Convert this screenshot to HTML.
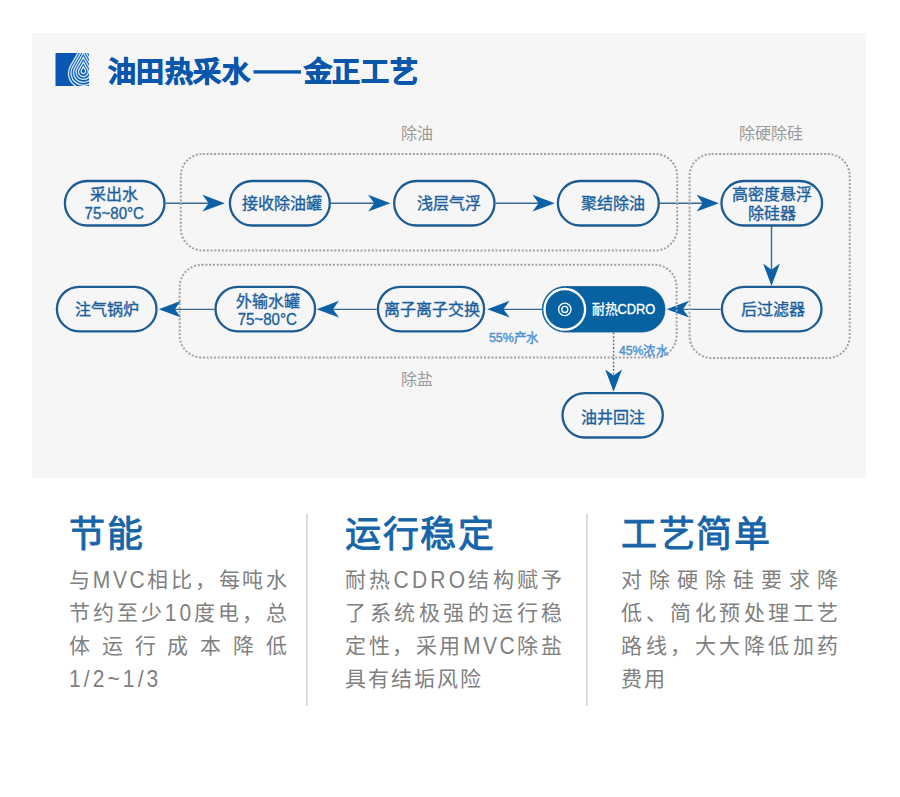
<!DOCTYPE html>
<html lang="zh-CN">
<head>
<meta charset="utf-8">
<style>
html,body{margin:0;padding:0;background:#fff;}
body{width:900px;height:797px;position:relative;overflow:hidden;font-family:"Liberation Sans",sans-serif;}
#panel{position:absolute;left:32px;top:33px;width:834px;height:445px;background:#f6f6f6;}
svg{position:absolute;left:0;top:0;}
.nt{font-family:"Liberation Sans",sans-serif;font-size:16px;font-weight:normal;fill:#1b5f9e;stroke:#1b5f9e;stroke-width:0.35px;}
.lb{font-family:"Liberation Sans",sans-serif;font-size:16px;fill:#9a9a9a;}
.pc{font-family:"Liberation Sans",sans-serif;font-size:13px;fill:#4a8fcf;stroke:#4a8fcf;stroke-width:0.4px;}
.col{position:absolute;top:0;}
.ttl{position:absolute;font-size:36px;font-weight:400;color:#1764a9;white-space:nowrap;letter-spacing:1.5px;-webkit-text-stroke:0.9px #1764a9;}
.ln{position:absolute;height:24px;line-height:24px;font-size:21px;color:#808080;display:flex;justify-content:space-between;align-items:baseline;white-space:nowrap;}
.ln span{display:block;}
.ln .l{transform:translateY(0.8px) scaleY(1.12);transform-origin:50% 80%;}
.last{justify-content:flex-start;letter-spacing:2px;}
.div{position:absolute;top:514px;width:2px;height:192px;background:#dcdcdc;}
</style>
</head>
<body>
<div id="panel"></div>
<svg width="900" height="797" viewBox="0 0 900 797">
  <defs>
    <clipPath id="lc"><rect x="55.5" y="53" width="33.5" height="33"/></clipPath>
    <path id="ah" d="M0,0 L-22.3,-8.4 L-16.2,0 L-22.3,8.4 Z"/>
  </defs>
  <!-- logo -->
  <rect x="55.5" y="53" width="33.5" height="33" fill="#0a58b2"/>
  <g clip-path="url(#lc)" fill="none" stroke="#d2e7fc" stroke-width="1.35"><path d="M83.40,66.70 L85.39,70.15 A2.30,2.30 0 1 1 81.41,70.15 Z"/><path d="M83.40,62.06 L87.57,69.29 A4.82,4.82 0 1 1 79.23,69.29 Z"/><path d="M83.40,57.42 L89.76,68.43 A7.34,7.34 0 1 1 77.04,68.43 Z"/><path d="M83.40,52.78 L91.94,67.57 A9.86,9.86 0 1 1 74.86,67.57 Z"/><path d="M83.40,48.14 L94.12,66.71 A12.38,12.38 0 1 1 72.68,66.71 Z"/><path d="M83.40,43.50 L96.30,65.85 A14.90,14.90 0 1 1 70.50,65.85 Z"/></g>
  <!-- title -->
  <g style="font-family:'Liberation Sans',sans-serif;font-size:28px;font-weight:bold;fill:#0a56ab;stroke:#0a56ab;stroke-width:0.9px;">
  <text x="108" y="82" letter-spacing="0.4">油田热采水</text>
  <text x="303.5" y="82" letter-spacing="0.8">金正工艺</text>
  </g>
  <rect x="253.5" y="70.2" width="47.5" height="3.4" fill="#0a56ab"/>

  <g stroke="#3a6a94" stroke-width="1.4" fill="none">
    <line x1="165.7" y1="203.2" x2="210" y2="203.2"/>
    <line x1="331" y1="203.2" x2="376" y2="203.2"/>
    <line x1="495.7" y1="203.2" x2="540" y2="203.2"/>
    <line x1="660" y1="203.2" x2="704" y2="203.2"/>
    <line x1="720.7" y1="309.4" x2="680" y2="309.4"/>
    <line x1="542.5" y1="309.4" x2="500" y2="309.4"/>
    <line x1="376.7" y1="309.4" x2="330" y2="309.4"/>
    <line x1="214.3" y1="309.4" x2="172" y2="309.4"/>
    <line x1="771.5" y1="226" x2="771.5" y2="272"/>
  </g>
  <line x1="613.6" y1="332.5" x2="613.6" y2="378" stroke="#46719a" stroke-width="1.5" stroke-dasharray="1.8 1.85"/>
  <g fill="#0c60a6">
    <use href="#ah" transform="translate(224.8,203.2) rotate(0)"/>
    <use href="#ah" transform="translate(390.4,203.2) rotate(0)"/>
    <use href="#ah" transform="translate(554.8,203.2) rotate(0)"/>
    <use href="#ah" transform="translate(718.9,203.2) rotate(0)"/>
    <use href="#ah" transform="translate(771.5,285.9) rotate(90)"/>
    <use href="#ah" transform="translate(666.7,309.2) rotate(180)"/>
    <use href="#ah" transform="translate(487.3,309.2) rotate(180)"/>
    <use href="#ah" transform="translate(316.7,309.2) rotate(180)"/>
    <use href="#ah" transform="translate(158.7,309.2) rotate(180)"/>
    <use href="#ah" transform="translate(613.6,391.8) rotate(90)"/>
  </g>
  <g fill="none" stroke="#a2a2a2" stroke-width="2" stroke-dasharray="2 1.75">
    <rect x="180.8" y="154" width="496.4" height="96.5" rx="22" ry="22"/>
    <rect x="689.6" y="154" width="160.1" height="204" rx="22" ry="22"/>
    <rect x="179.7" y="264.8" width="496.9" height="92.6" rx="22" ry="22"/>
  </g>
  <text class="lb" x="401" y="139">除油</text>
  <text class="lb" x="739" y="139">除硬除硅</text>
  <text class="lb" x="401" y="385">除盐</text>
  <g fill="#f6f6f6" stroke="#1d5b93" stroke-width="2.3">
    <rect x="64.90" y="181.00" width="99.60" height="44.50" rx="22.25"/>
    <rect x="229.90" y="181.00" width="99.90" height="44.50" rx="22.25"/>
    <rect x="394.20" y="181.00" width="100.30" height="44.50" rx="22.25"/>
    <rect x="557.90" y="181.00" width="100.90" height="44.50" rx="22.25"/>
    <rect x="721.50" y="181.00" width="100.60" height="44.50" rx="22.25"/>
    <rect x="56.90" y="286.80" width="99.60" height="44.50" rx="22.25"/>
    <rect x="215.50" y="286.80" width="99.60" height="44.50" rx="22.25"/>
    <rect x="377.90" y="286.80" width="106.20" height="44.50" rx="22.25"/>
    <rect x="721.90" y="286.80" width="99.60" height="44.50" rx="22.25"/>
    <rect x="562.50" y="393.10" width="100.30" height="44.40" rx="22.20"/>
  </g>
  <rect x="542.3" y="286.5" width="122.7" height="45.5" rx="22.75" fill="#0862a2" stroke="#0d5a95" stroke-width="0.8"/>
  <circle cx="564.8" cy="309.3" r="20.3" fill="none" stroke="#fff" stroke-width="2.3"/>
  <circle cx="564.8" cy="309.4" r="6.2" fill="none" stroke="#fff" stroke-width="1.3"/>
  <circle cx="564.8" cy="309.4" r="3" fill="none" stroke="#fff" stroke-width="1.3"/>
  <g class="nt" text-anchor="middle">
    <text x="113.5" y="200">采出水</text>
    <text x="114.3" y="219" textLength="59.4" lengthAdjust="spacingAndGlyphs">75~80°C</text>
    <text x="282" y="209">接收除油罐</text>
    <text x="448.8" y="209">浅层气浮</text>
    <text x="612.5" y="209">聚结除油</text>
    <text x="771.5" y="200">高密度悬浮</text>
    <text x="771.8" y="218.8">除硅器</text>
    <text x="107.2" y="315">注气锅炉</text>
    <text x="267.5" y="306.5">外输水罐</text>
    <text x="267.3" y="325.3" textLength="59.3" lengthAdjust="spacingAndGlyphs">75~80°C</text>
    <text x="431.5" y="315">离子离子交换</text>
    <text x="773.3" y="315">后过滤器</text>
    <text x="612.8" y="422.7">油井回注</text>
  </g>
  <text x="591.7" y="314" textLength="63.7" lengthAdjust="spacingAndGlyphs" style="font-family:'Liberation Sans',sans-serif;font-size:14px;fill:#fff;stroke:#fff;stroke-width:0.3px;">耐热CDRO</text>
  <text class="pc" x="488.9" y="341.5" textLength="50" lengthAdjust="spacingAndGlyphs">55%产水</text>
  <text class="pc" x="618.9" y="354.8" textLength="49" lengthAdjust="spacingAndGlyphs">45%浓水</text>
</svg>

<div class="div" style="left:306px"></div>
<div class="div" style="left:586px"></div>

<div class="ttl" style="left:69px;top:505px;">节能</div>
<div class="ttl" style="left:345px;top:505px;">运行稳定</div>
<div class="ttl" style="left:621px;top:505px;">工艺简单</div>

<div class="ln" style="left:69px;top:568px;width:218px;"><span>与</span><span class="l">M</span><span class="l">V</span><span class="l">C</span><span>相</span><span>比</span><span>，</span><span>每</span><span>吨</span><span>水</span></div>
<div class="ln" style="left:69px;top:600.5px;width:218px;"><span>节</span><span>约</span><span>至</span><span>少</span><span class="l">1</span><span class="l">0</span><span>度</span><span>电</span><span>，</span><span>总</span></div>
<div class="ln" style="left:69px;top:634px;width:218px;"><span>体</span><span>运</span><span>行</span><span>成</span><span>本</span><span>降</span><span>低</span></div>
<div class="ln last" style="left:69px;top:667px;width:218px;"><span class="l" style="letter-spacing:3.1px">1/2~1/3</span></div>

<div class="ln" style="left:345px;top:568px;width:217px;"><span>耐</span><span>热</span><span class="l">C</span><span class="l">D</span><span class="l">R</span><span class="l">O</span><span>结</span><span>构</span><span>赋</span><span>予</span></div>
<div class="ln" style="left:345px;top:600.5px;width:217px;"><span>了</span><span>系</span><span>统</span><span>极</span><span>强</span><span>的</span><span>运</span><span>行</span><span>稳</span></div>
<div class="ln" style="left:345px;top:634px;width:217px;"><span>定</span><span>性</span><span>，</span><span>采</span><span>用</span><span class="l">M</span><span class="l">V</span><span class="l">C</span><span>除</span><span>盐</span></div>
<div class="ln last" style="left:345px;top:667px;width:217px;">具有结垢风险</div>

<div class="ln" style="left:621px;top:568px;width:217px;"><span>对</span><span>除</span><span>硬</span><span>除</span><span>硅</span><span>要</span><span>求</span><span>降</span></div>
<div class="ln" style="left:621px;top:600.5px;width:217px;"><span>低</span><span>、</span><span>简</span><span>化</span><span>预</span><span>处</span><span>理</span><span>工</span><span>艺</span></div>
<div class="ln" style="left:621px;top:634px;width:217px;"><span>路</span><span>线</span><span>，</span><span>大</span><span>大</span><span>降</span><span>低</span><span>加</span><span>药</span></div>
<div class="ln last" style="left:621px;top:667px;width:217px;">费用</div>

</body>
</html>
